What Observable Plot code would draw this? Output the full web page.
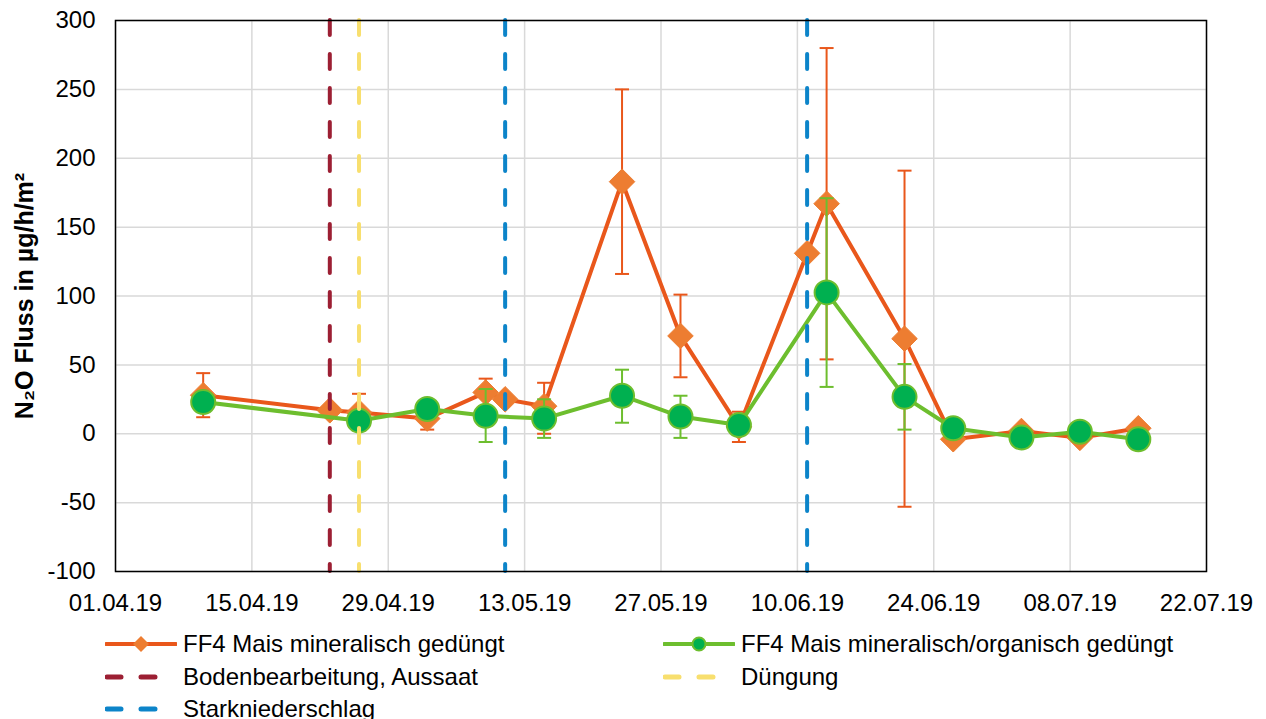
<!DOCTYPE html>
<html>
<head>
<meta charset="utf-8">
<script src="https://cdn.jsdelivr.net/npm/d3@7"></script>
<script src="https://cdn.jsdelivr.net/npm/@observablehq/plot@0.6"></script>
<style>
  body { margin: 0; background: #fff; font-family: "Liberation Sans", Arial, sans-serif; }
  #wrap { position: relative; width: 1266px; height: 719px; overflow: hidden; }
  #chart svg g[aria-label="y-axis label"] text { font-weight: bold; font-size: 25px; }
  .leg { position: absolute; display: flex; align-items: center; font-size: 24px; color: #000; white-space: nowrap; }
  .leg svg { margin-right: 6px; }
</style>
</head>
<body>
<div id="wrap">
  <div id="chart"></div>
  <div id="legend"></div>
</div>
<script>
// ---- data ----
const tickDates = ["2019-04-01","2019-04-15","2019-04-29","2019-05-13","2019-05-27","2019-06-10","2019-06-24","2019-07-08","2019-07-22"];
const yTicks = [-100, -50, 0, 50, 100, 150, 200, 250, 300];

const mineralDates = ["2019-04-10","2019-04-23","2019-04-26","2019-05-03","2019-05-09","2019-05-11","2019-05-15","2019-05-23","2019-05-29","2019-06-04","2019-06-11","2019-06-13","2019-06-21","2019-06-26","2019-07-03","2019-07-09","2019-07-15"];
const mineralValues = [28, 17, 15.5, 11, 30, 25, 20, 183, 71, 5, 131, 167, 69, -4, 2, -3, 4];
const mineralLow  = [12, null, 2.5, 3, 20, null, 0, 116, 41, -6, null, 54, -53, null, null, null, null];
const mineralHigh = [44, null, 29, 19, 40, null, 37, 250, 101, 16, null, 280, 191, null, null, null, null];

const organicDates = ["2019-04-10","2019-04-26","2019-05-03","2019-05-09","2019-05-15","2019-05-23","2019-05-29","2019-06-04","2019-06-13","2019-06-21","2019-06-26","2019-07-03","2019-07-09","2019-07-15"];
const organicValues = [23, 9.5, 18, 13, 11, 27.6, 12.5, 6.3, 102.6, 26.8, 4, -2.7, 1.5, -4];
const organicLow  = [null, null, null, -6, -3, 8, -3, null, 34, 3, null, null, null, null];
const organicHigh = [null, null, null, 32.5, 25, 46.5, 27.6, null, 171, 50.6, null, null, null, null];

const tillageDates = ["2019-04-23"];
const fertilizationDates = ["2019-04-26"];
const rainDates = ["2019-05-11", "2019-06-11"];

const seriesNames = ["FF4 Mais mineralisch gedüngt", "FF4 Mais mineralisch/organisch gedüngt"];
const eventNames = ["Bodenbearbeitung, Aussaat", "Düngung", "Starkniederschlag"];

// ---- styles ----
const C = {
  orangeLine: "#E9571B", orangeFill: "#ED7D31",
  greenLine: "#6DBE2E", greenFill: "#00B050",
  maroon: "#9C1F33", yellow: "#F8DF6E", blue: "#0C84C9",
  grid: "#D9D9D9"
};

const pd = d => new Date(d + "T00:00:00Z");
const build = (dates, vals, lo, hi) => dates.map((d, i) => ({date: pd(d), value: vals[i], lo: lo[i], hi: hi[i]}));
const mineral = build(mineralDates, mineralValues, mineralLow, mineralHigh);
const organic = build(organicDates, organicValues, organicLow, organicHigh);
const mineralErr = mineral.filter(d => d.lo != null);
const organicErr = organic.filter(d => d.lo != null);

const capSymbol = {
  draw(ctx, size) {
    const w = Math.sqrt(size / Math.PI);
    ctx.moveTo(-w, 0); ctx.lineTo(w, 0);
  }
};

const dash = {strokeWidth: 4, strokeDasharray: "15,19", strokeLinecap: "round"};

const chart = Plot.plot({
  width: 1266,
  height: 620,
  marginLeft: 115,
  marginRight: 60,
  marginTop: 20,
  marginBottom: 49,
  style: {fontFamily: "'Liberation Sans', Arial, sans-serif", fontSize: "24px", color: "#000", background: "#fff", overflow: "visible"},
  x: {type: "utc", domain: [pd(tickDates[0]), pd(tickDates[tickDates.length - 1])]},
  y: {domain: [-100, 300]},
  marks: [
    Plot.gridX(tickDates.map(pd), {stroke: C.grid, strokeOpacity: 1, strokeWidth: 1.5}),
    Plot.gridY(yTicks, {stroke: C.grid, strokeOpacity: 1, strokeWidth: 1.5}),
    Plot.axisX({ticks: tickDates.map(pd), tickFormat: d3.utcFormat("%d.%m.%y"), tickSize: 0, tickPadding: 22, label: null}),
    Plot.axisY({ticks: yTicks, tickFormat: d => String(d), tickSize: 0, tickPadding: 20, label: "N₂O Fluss in µg/h/m²", labelAnchor: "center", labelArrow: "none", labelOffset: 100}),
    // series 1
    Plot.line(mineral, {x: "date", y: "value", stroke: C.orangeLine, strokeWidth: 4}),
    Plot.ruleX(mineralErr, {x: "date", y1: "lo", y2: "hi", stroke: C.orangeLine, strokeWidth: 2}),
    Plot.dot(mineralErr, {x: "date", y: "lo", symbol: capSymbol, r: 7, stroke: C.orangeLine, strokeWidth: 2}),
    Plot.dot(mineralErr, {x: "date", y: "hi", symbol: capSymbol, r: 7, stroke: C.orangeLine, strokeWidth: 2}),
    Plot.dot(mineral, {x: "date", y: "value", symbol: "diamond2", r: 11.5, fill: C.orangeFill, stroke: C.orangeFill, strokeWidth: 1}),
    // series 2
    Plot.line(organic, {x: "date", y: "value", stroke: C.greenLine, strokeWidth: 4}),
    Plot.ruleX(organicErr, {x: "date", y1: "lo", y2: "hi", stroke: C.greenLine, strokeWidth: 2}),
    Plot.dot(organicErr, {x: "date", y: "lo", symbol: capSymbol, r: 7, stroke: C.greenLine, strokeWidth: 2}),
    Plot.dot(organicErr, {x: "date", y: "hi", symbol: capSymbol, r: 7, stroke: C.greenLine, strokeWidth: 2}),
    Plot.dot(organic, {x: "date", y: "value", r: 12, fill: C.greenFill, stroke: C.greenLine, strokeWidth: 2}),
    // events
    Plot.ruleX(tillageDates.map(pd), {stroke: C.maroon, ...dash}),
    Plot.ruleX(fertilizationDates.map(pd), {stroke: C.yellow, ...dash}),
    Plot.ruleX(rainDates.map(pd), {stroke: C.blue, ...dash}),
    Plot.frame({stroke: "#000", strokeWidth: 1.5})
  ]
});
document.getElementById("chart").appendChild(chart);

// ---- legend ----
const legendItems = [
  {label: seriesNames[0], kind: "diamond", color: C.orangeLine, fill: C.orangeFill, left: 105, top: 644},
  {label: seriesNames[1], kind: "circle", color: C.greenLine, fill: C.greenFill, left: 663, top: 644},
  {label: eventNames[0], kind: "dash", color: C.maroon, left: 105, top: 677},
  {label: eventNames[1], kind: "dash", color: C.yellow, left: 663, top: 677},
  {label: eventNames[2], kind: "dash", color: C.blue, left: 105, top: 709}
];
const legend = document.getElementById("legend");
for (const it of legendItems) {
  const div = document.createElement("div");
  div.className = "leg";
  div.style.left = it.left + "px";
  div.style.top = (it.top - 14) + "px";
  div.style.height = "28px";
  let sw = "";
  if (it.kind === "dash") {
    sw = `<line x1="2" y1="14" x2="70" y2="14" stroke="${it.color}" stroke-width="5" stroke-dasharray="14,20" stroke-linecap="round"/>`;
  } else if (it.kind === "diamond") {
    sw = `<line x1="1" y1="14" x2="71" y2="14" stroke="${it.color}" stroke-width="4" stroke-linecap="round"/>` +
         `<path d="M36,6 L44,14 L36,22 L28,14 Z" fill="${it.fill}"/>`;
  } else {
    sw = `<line x1="1" y1="14" x2="71" y2="14" stroke="${it.color}" stroke-width="4" stroke-linecap="round"/>` +
         `<circle cx="36" cy="14" r="6.5" fill="${it.fill}" stroke="${it.color}" stroke-width="2"/>`;
  }
  div.innerHTML = `<svg width="72" height="28">${sw}</svg><span>${it.label}</span>`;
  legend.appendChild(div);
}
</script>
</body>
</html>
